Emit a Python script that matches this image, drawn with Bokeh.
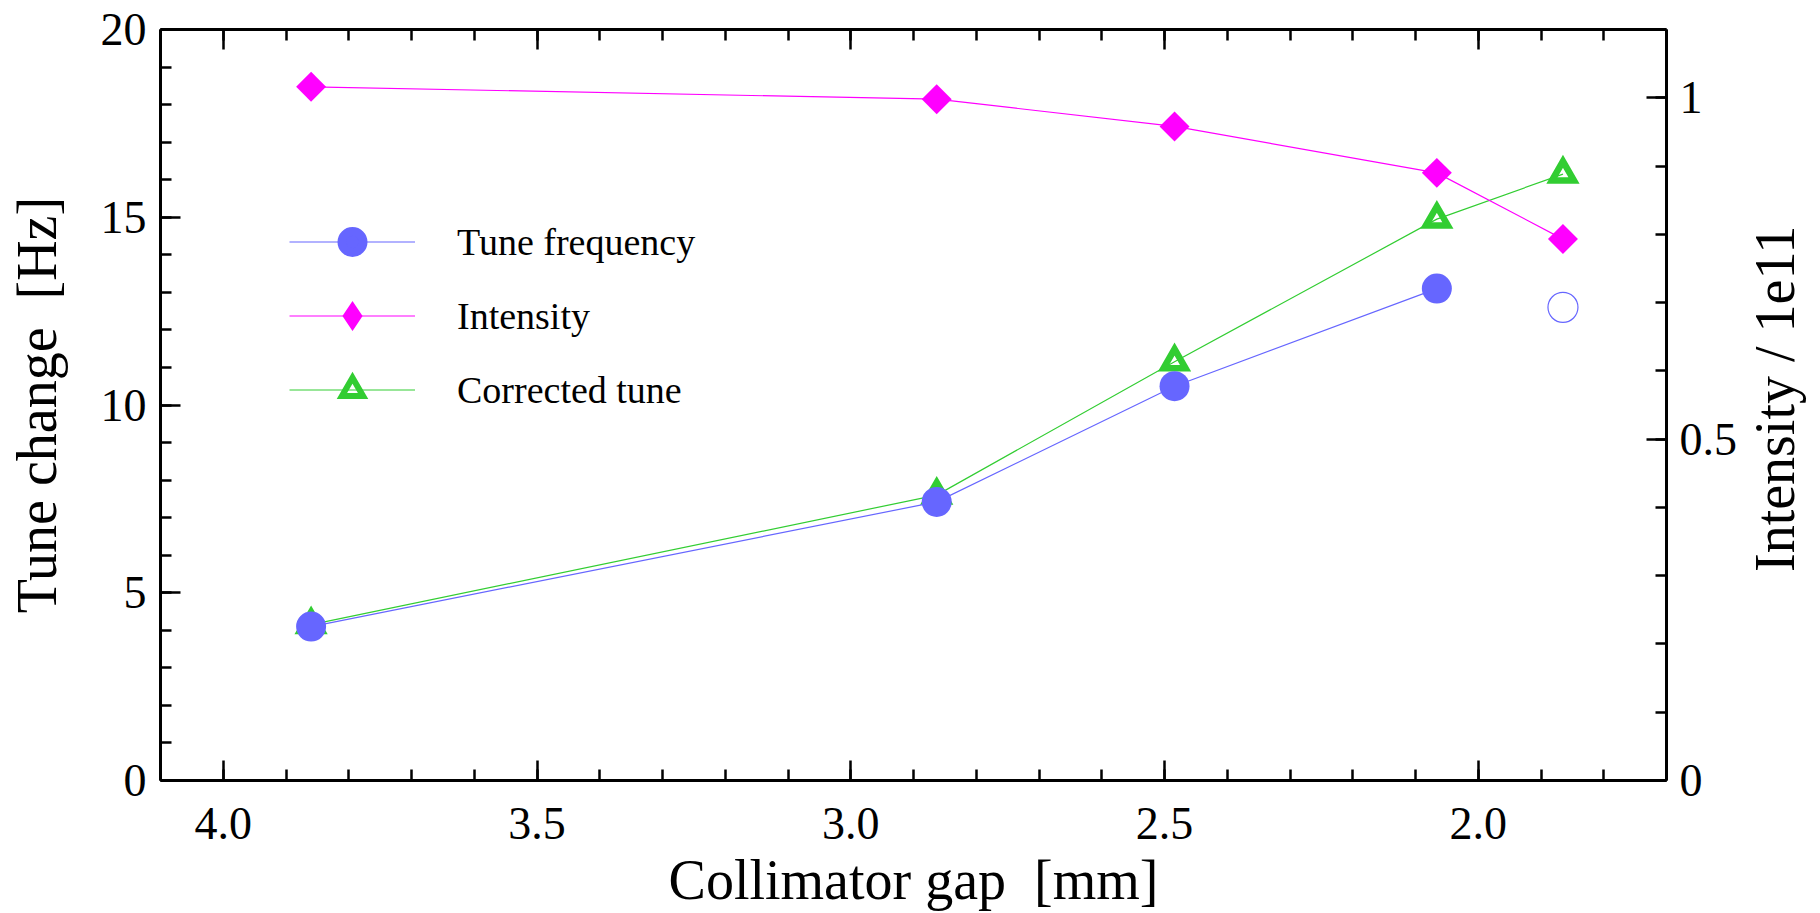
import math
from bokeh.plotting import figure
from bokeh.layouts import row
from bokeh.models import (Range1d, LinearAxis, FixedTicker, Legend, LegendItem,
                          ColumnDataSource, PrintfTickFormatter, Label)
from bokeh.embed import file_html
from bokeh.resources import INLINE

# ---------------- data ----------------
gap_mm = [3.86, 2.863, 2.484, 2.066, 1.865]
tune_gap = [3.86, 2.863, 2.484, 2.066]
tune_hz = [4.10, 7.42, 10.50, 13.10]
tune_open_gap = [1.865]
tune_open_hz = [12.60]
intensity_1e11 = [1.016, 0.998, 0.958, 0.890, 0.793]
corrected_hz = [4.15, 7.60, 11.15, 14.95, 16.15]

x_major_ticks = [4.0, 3.5, 3.0, 2.5, 2.0]
x_minor_ticks = [round(1.7 + 0.1 * i, 2) for i in range(25)]
y_major_ticks = [0, 5, 10, 15, 20]
y_minor_ticks = list(range(0, 21))
r_major_ticks = [0, 0.5, 1]
r_minor_ticks = [round(0.1 * i, 2) for i in range(12)]
r_tick_labels = {0: "0", 0.5: "0.5", 1: "1"}

BLUE = "#6666ff"
MAGENTA = "#ff00ff"
GREEN = "#32cd32"
FONT = "Liberation Serif"

MAIN_W = 1740
SIDE_W = 1820 - MAIN_W
H = 913

p = figure(width=MAIN_W, height=H,
           x_range=Range1d(4.1, 1.7), y_range=Range1d(0, 20),
           output_backend="svg", toolbar_location=None,
           min_border_left=160, min_border_right=73,
           min_border_top=29, min_border_bottom=131,
           background_fill_color="white", border_fill_color="white")
p.extra_y_ranges = {"int": Range1d(0, 1.1)}
p.xgrid.visible = False
p.ygrid.visible = False
p.outline_line_color = None


def style(ax, size="46px"):
    ax.axis_line_width = 3
    ax.axis_line_color = "black"
    ax.major_tick_line_width = 2.5
    ax.minor_tick_line_width = 2.5
    ax.major_tick_in = 20
    ax.major_tick_out = 0
    ax.minor_tick_in = 11
    ax.minor_tick_out = 0
    ax.major_label_text_font = FONT
    ax.major_label_text_font_size = size
    ax.major_label_text_color = "black"
    ax.axis_label_text_font = FONT
    ax.axis_label_text_font_size = "56px"
    ax.axis_label_text_font_style = "normal"
    ax.axis_label_text_color = "black"


xa = p.xaxis[0]
xa.ticker = FixedTicker(ticks=x_major_ticks, minor_ticks=x_minor_ticks)
xa.formatter = PrintfTickFormatter(format="%.1f")
style(xa)
xa.major_label_standoff = 27
xa.axis_label = "Collimator gap\u00a0 [mm]"
xa.axis_label_standoff = 7

ya = p.yaxis[0]
ya.ticker = FixedTicker(ticks=y_major_ticks, minor_ticks=y_minor_ticks)
style(ya)
ya.major_label_standoff = 14
ya.axis_label = "Tune change\u00a0 [Hz]"
ya.axis_label_standoff = 30

top = LinearAxis(ticker=FixedTicker(ticks=x_major_ticks, minor_ticks=x_minor_ticks))
style(top, "1px")
top.major_label_text_color = None
top.major_label_standoff = 0
p.add_layout(top, "above")

ra = LinearAxis(y_range_name="int",
                ticker=FixedTicker(ticks=r_major_ticks, minor_ticks=r_minor_ticks))
style(ra)
ra.major_label_overrides = r_tick_labels
ra.major_label_standoff = 13
p.add_layout(ra, "right")

# ---------------- series ----------------
g_line = p.line(gap_mm, corrected_hz, line_color=GREEN, line_width=1.2)
p.scatter(gap_mm, corrected_hz, marker="triangle", size=22,
          fill_color=None, line_color=GREEN, line_width=6.5, line_join="miter")

b_line = p.line(tune_gap, tune_hz, line_color=BLUE, line_width=1.2)
p.scatter(tune_gap, tune_hz, marker="circle", size=30,
          fill_color=BLUE, line_color=None)
p.scatter(tune_open_gap, tune_open_hz, marker="circle", size=30,
          fill_color=None, line_color=BLUE, line_width=1.2)

m_line = p.line(gap_mm, intensity_1e11, y_range_name="int",
                line_color=MAGENTA, line_width=1.2)
p.scatter(gap_mm, intensity_1e11, y_range_name="int", marker="square",
          angle=math.pi / 4, size=21.2, fill_color=MAGENTA, line_color=None)

# legend-only marker renderers (a single non-plotted point each)
nan = float("nan")
leg_src = ColumnDataSource(data=dict(x=[nan], y=[nan]))
leg_c = p.scatter("x", "y", source=leg_src, marker="circle", size=20,
                  fill_color=BLUE, line_color=BLUE, line_width=8.8)
leg_d = p.scatter("x", "y", source=leg_src, marker="diamond", size=20,
                  fill_color=MAGENTA, line_color=MAGENTA, line_width=5,
                  line_join="miter")
leg_t = p.scatter("x", "y", source=leg_src, marker="triangle", size=20,
                  fill_color=None, line_color=GREEN, line_width=6,
                  line_join="miter")

legend = Legend(items=[
    LegendItem(label="Tune frequency", renderers=[b_line, leg_c]),
    LegendItem(label="Intensity", renderers=[m_line, leg_d]),
    LegendItem(label="Corrected tune", renderers=[g_line, leg_t]),
], location=(129, 364), orientation="vertical",
    glyph_width=126, glyph_height=53, label_height=53, spacing=21,
    label_standoff=42, padding=0, margin=0,
    border_line_color=None, background_fill_alpha=0,
    label_text_font=FONT, label_text_font_size="38px",
    label_text_color="black")
p.add_layout(legend)

# ---------------- right-hand axis title (reads bottom-to-top) ----------------
side = figure(width=SIDE_W, height=H,
              x_range=Range1d(0, SIDE_W), y_range=Range1d(0, H),
              output_backend="svg", toolbar_location=None, title=None,
              min_border=0, x_axis_location=None, y_axis_location=None,
              background_fill_color="white", border_fill_color="white")
side.outline_line_color = None
side.grid.visible = False
side.add_layout(Label(x=34, y=464, text="Intensity / 1e11",
                      angle=math.pi / 2, text_align="center",
                      text_baseline="middle", text_font=FONT,
                      text_font_size="56px", text_color="black"))

layout = row(p, side)
open("out.html", "w").write(file_html(layout, INLINE))
